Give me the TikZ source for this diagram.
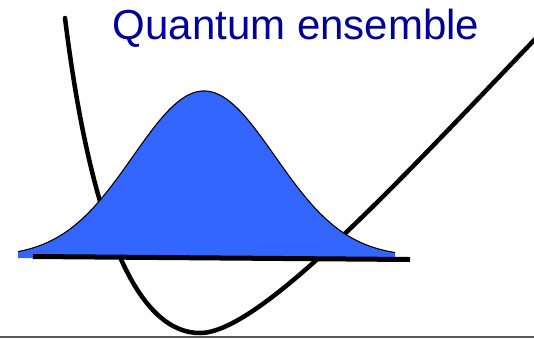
\documentclass[tikz,border=0pt]{standalone}
\usepackage{fontspec}
\setmainfont{Liberation Sans}
\definecolor{titleblue}{RGB}{0,0,150}
\definecolor{packetblue}{RGB}{51,102,255}
\tikzset{
  potential/.style={line width=4.5pt, line cap=round},
  packet/.style={line width=1.1pt},
  ground/.style={line width=5pt}
}
\begin{document}
\begin{tikzpicture}[x=1pt, y=-1pt]
\useasboundingbox (0,0) rectangle (534,338);
\node[text=titleblue, font=\fontsize{42}{48}\selectfont, anchor=base] (title) at (296,39) {Quantum ensemble};
\draw[potential] (65,18) .. controls (90,220) and (135,333) .. (200,333) .. controls (260,333) and (400,180) .. (540,34);
\fill[packetblue] plot[domain=18:395, samples=120] (\x, {257-166*exp(-((\x-204)/71)^2/2)}) -- (395,258) -- (18,258) -- cycle;
\draw[packet] plot[domain=18:395, samples=120] (\x, {257-166*exp(-((\x-204)/71)^2/2)});
\draw[ground] (33,256.5) -- (410,259.5);
\draw[gray!70!black, line width=2pt] (0,337) -- (534,337);
\end{tikzpicture}
\end{document}
